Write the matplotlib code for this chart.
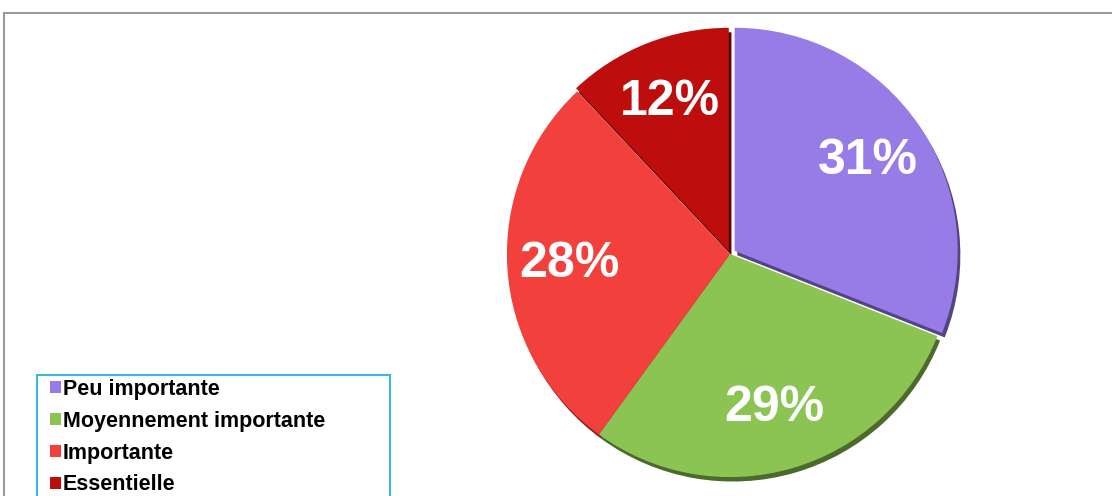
import matplotlib.pyplot as plt
from matplotlib.patches import Rectangle

# data
categories = ["Peu importante", "Moyennement importante", "Importante", "Essentielle"]
shares = [31, 29, 28, 12]
colors = ["#977be6", "#8bc452", "#f2403d", "#bd0d0d"]
shadow_colors = ["#544483", "#4c6a2c", "#8c2220", "#5a0505"]
explode = [0.025, 0, 0, 0.015]

plt.rcParams['font.family'] = ['Liberation Sans', 'DejaVu Sans']

fig = plt.figure(figsize=(11.12, 4.96), dpi=100)

# grey frame around the chart area
fig.patches.append(Rectangle((4 / 1112, -0.1), 1.2, 1 - 13 / 496 + 0.1,
                             transform=fig.transFigure, fill=False,
                             edgecolor="#9a9a9a", linewidth=1.5))

# blue box of the legend (runs off the bottom edge)
fig.patches.append(Rectangle((37 / 1112, -0.1), 353 / 1112, 1 - 375 / 496 + 0.1,
                             transform=fig.transFigure, fill=False,
                             edgecolor="#3cb6e3", linewidth=1.5))

ax = fig.add_axes([(730 - 232) / 1112, 1 - (254 + 232) / 496, 464 / 1112, 464 / 496])

# darker copy underneath for the bevel / shadow edge
ax.pie(shares, colors=shadow_colors, startangle=90, counterclock=False,
       explode=explode, center=(0.012, -0.02),
       wedgeprops=dict(linewidth=0))

wedges, texts, autotexts = ax.pie(
    shares, colors=colors, startangle=90, counterclock=False,
    explode=explode, autopct="%d%%", pctdistance=0.72,
    wedgeprops=dict(linewidth=0),
    textprops=dict(color="white", fontsize=36, fontweight="bold"))

ax.set_xlim(-1.04, 1.04)
ax.set_ylim(-1.04, 1.04)
ax.set_aspect("equal")

leg = fig.legend(wedges, categories, loc="upper left",
                 bbox_to_anchor=(50 / 1112, 1 - 379 / 496),
                 borderaxespad=0, frameon=False,
                 prop=dict(size=15.5, weight="bold"), handlelength=0.5,
                 handleheight=0.5, handletextpad=0.1, labelspacing=0.5,
                 borderpad=0)

fig.savefig("out.png", dpi=100)
